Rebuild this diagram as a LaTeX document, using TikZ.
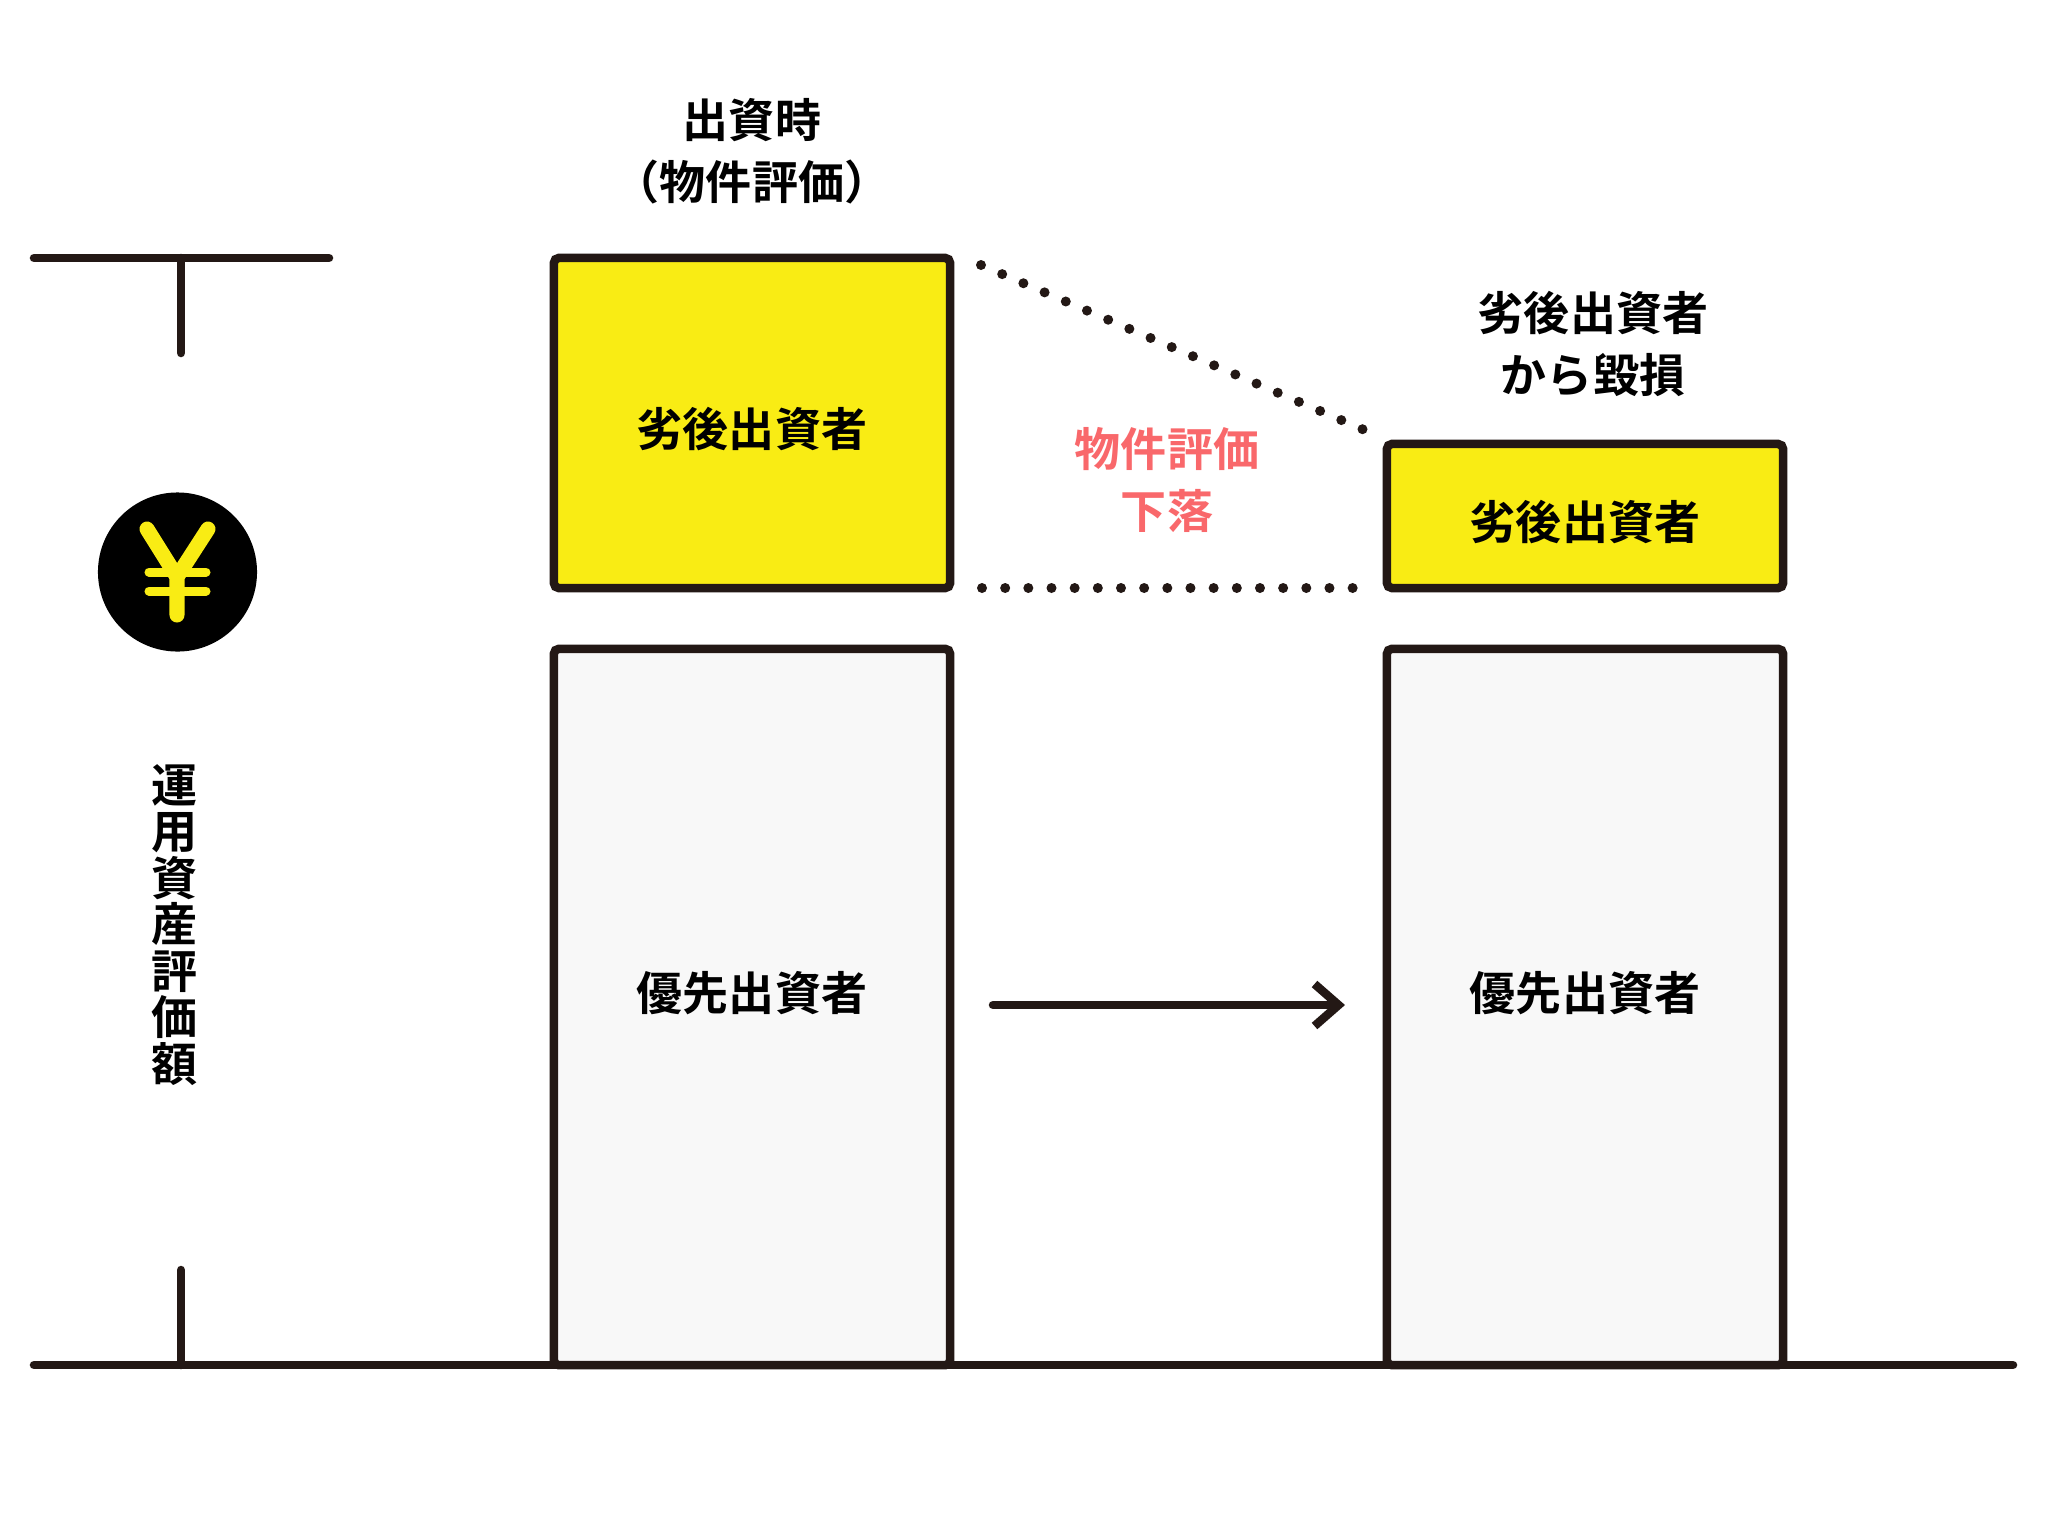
\documentclass[tikz,border=0pt]{standalone}
\usepackage{fontspec}
\setmainfont{Noto Sans CJK JP}[BoldFont=* Bold]
\usetikzlibrary{arrows.meta}
\definecolor{lineink}{HTML}{231815}
\definecolor{juniorfill}{HTML}{F9EC14}
\definecolor{seniorfill}{HTML}{F8F8F8}
\definecolor{fallred}{HTML}{F9686B}

\tikzset{%
				every tranche/.style={
					draw=lineink,
					line width=0.085cm,
					rounded corners=0.05cm,
					minimum width=3.96cm,
					inner sep=0pt
				},
				tranche junior/.style={
					fill=juniorfill
				},
				tranche senior/.style={
					fill=seniorfill
				},
				caption/.style={
					align=center,
					inner sep=0pt,
					font=\fontsize{0.46cm}{0.62cm}\selectfont\bfseries
				},
				rule/.style={
					draw=lineink,
					line width=0.085cm,
					line cap=round
				},
				dots/.style={
					draw=lineink,
					line width=0.1cm,
					line cap=round,
					dash pattern=on 0pt off 0.2306cm
				},
			}

\begin{document}
\begin{tikzpicture}[x=0.01cm, y=-0.01cm, >={Straight Barb[length=0.24cm, width=0.42cm, line width=0.085cm]}]

			\path [use as bounding box, fill=white] (0,0) rectangle (2048,1536);

			% tranche boxes
			\node [every tranche, tranche junior, minimum height=3.30cm] (junior-1) at (752,423) {};
			\node [every tranche, tranche senior, minimum height=7.16cm] (senior-1) at (752,1007) {};
			\node [every tranche, tranche junior, minimum height=1.44cm] (junior-2) at (1585,516) {};
			\node [every tranche, tranche senior, minimum height=7.16cm] (senior-2) at (1585,1007) {};

			\foreach \i in {1,2}
			\node [caption, yshift=0.14cm] at (senior-\i) {優先出資者};

			\node [caption, yshift=-0.06cm] (junior-text-1) at (junior-1) {劣後出資者};
			\node [caption, yshift=-0.06cm] (junior-text-2) at (junior-2) {劣後出資者};

			% axis
			\coordinate (base-l) at (34,1365);
			\coordinate (base-r) at (2013,1365);
			\coordinate (top-l) at (34,258);
			\coordinate (top-r) at (329,258);
			\coordinate (top-m) at (181,258);
			\coordinate (top-e) at (181,353);
			\coordinate (base-m) at (181,1365);
			\coordinate (base-e) at (181,1270);
			\draw [rule] (base-l) -- (base-r);
			\draw [rule] (top-l) -- (top-r);
			\draw [rule] (top-m) -- (top-e);
			\draw [rule] (base-m) -- (base-e);

			% yen mark
			\node [circle, fill=black, minimum size=1.59cm, inner sep=0pt] (yen) at (177.5,572) {};
			\draw [juniorfill, line width=0.15cm, line cap=round, line join=round]
			(147,529) -- (177,577) -- (208,529) (177,577) -- (177,615);
			\draw [juniorfill, line width=0.09cm, line cap=round]
			(149,572) -- (206,572) (149,591) -- (206,591);

			\node [caption, font=\fontsize{0.46cm}{0.465cm}\selectfont\bfseries] (axis-text) at (175,925)
			{運\\用\\資\\産\\評\\価\\額};

			% fall in value
			\coordinate (fall-a) at (981,265);
			\coordinate (fall-b) at (1369,432);
			\coordinate (fall-c) at (982,588);
			\coordinate (fall-d) at (1360,588);
			\draw [dots] (fall-a) -- (fall-b);
			\draw [dots, dash pattern=on 0pt off 0.2315cm] (fall-c) -- (fall-d);

			\coordinate (move-a) at (993,1005);
			\coordinate (move-b) at (1345,1005);
			\draw [rule, ->] (move-a) -- (move-b);

			\node [caption] (start-text) at (752,151) {出資時\\（物件評価）};
			\node [caption] (loss-text) at (1593,344) {劣後出資者\\から毀損};
			\node [caption, text=fallred] (fall-text) at (1167,480) {物件評価\\下落};

			\end{tikzpicture}
\end{document}
